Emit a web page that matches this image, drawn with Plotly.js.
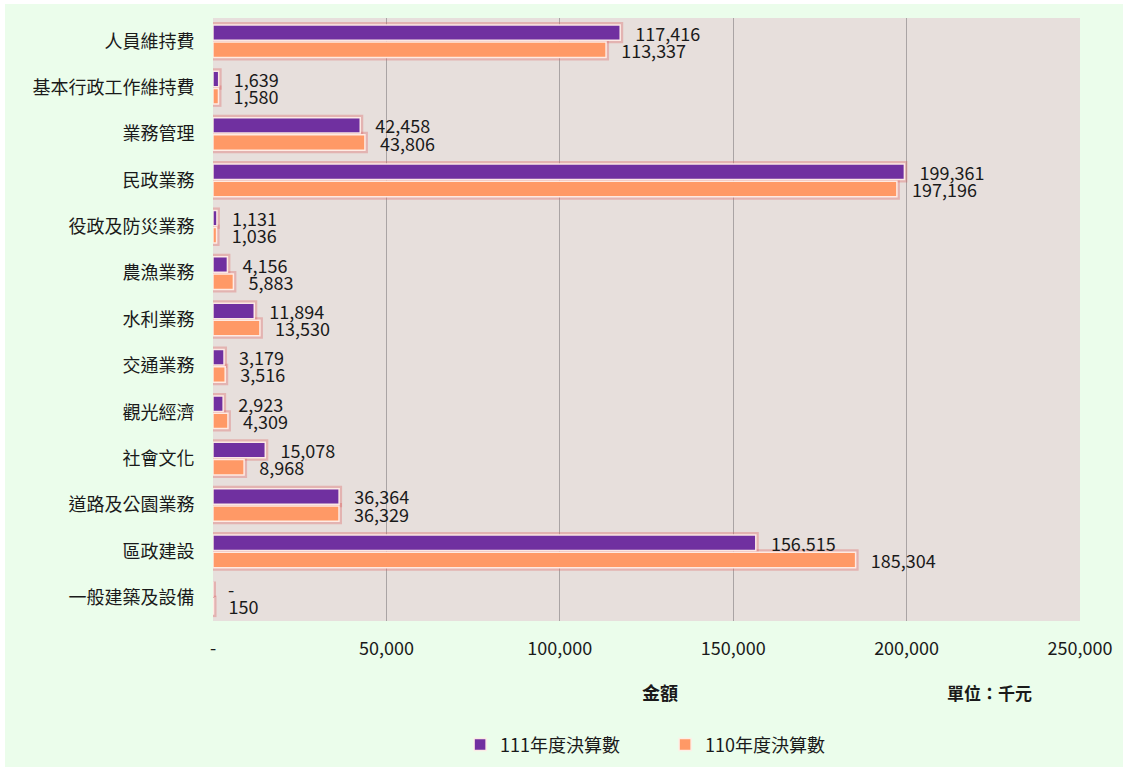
<!DOCTYPE html>
<html><head><meta charset="utf-8">
<script src="https://cdn.plot.ly/plotly-3.0.1.min.js"></script>
<style>html,body{margin:0;padding:0;background:#ffffff;}#chart{position:absolute;left:5px;top:4px;width:1118px;height:763px;}</style>
</head><body><div id="chart"></div>
<script>
const categories = ['人員維持費','基本行政工作維持費','業務管理','民政業務','役政及防災業務','農漁業務','水利業務','交通業務','觀光經濟','社會文化','道路及公園業務','區政建設','一般建築及設備'];
const values111 = [117416,1639,42458,199361,1131,4156,11894,3179,2923,15078,36364,156515,0];
const values110 = [113337,1580,43806,197196,1036,5883,13530,3516,4309,8968,36329,185304,150];
const seriesNames = ['111年度決算數','110年度決算數'];
const tickVals = [0,50000,100000,150000,200000,250000];
const tickText = ['-','50,000','100,000','150,000','200,000','250,000'];

const fmt = v => '\u00a0\u00a0\u00a0' + (v === 0 ? '-' : v.toLocaleString('en-US'));
const font = '"Noto Sans CJK TC","Noto Sans",sans-serif';

function barTrace(vals, name, color){
  return {
    type:'bar', orientation:'h', x: vals, y: categories, name: name, yaxis:'y2',
    text: vals.map(fmt), textposition:'outside', cliponaxis:false, constraintext:'none',
    textfont:{size:18, color:'#1a1a1a', family:font},
    marker:{color:color, line:{color:'rgba(255,238,232,0.95)', width:1.5}},
    hoverinfo:'x+y'
  };
}
function glowTrace(vals){
  return {
    type:'bar', orientation:'h', x: vals, y: categories, yaxis:'y', showlegend:false, hoverinfo:'skip',
    marker:{color:'rgba(0,0,0,0)', line:{color:'rgba(218,90,90,0.33)', width:6}}
  };
}
const data = [glowTrace(values111), glowTrace(values110),
  barTrace(values111, seriesNames[0], '#7030a0'), barTrace(values110, seriesNames[1], '#ff9966')];

const layout = {
  width:1118, height:763,
  margin:{l:208, r:43, t:14, b:146},
  paper_bgcolor:'#ebfdeb', plot_bgcolor:'#e7dfdc',
  barmode:'group', bargap:0.26, bargroupgap:0.1,
  font:{family:font, size:18, color:'#1a1a1a'},
  xaxis:{range:[0,250000], tickvals:tickVals, ticktext:tickText, showgrid:true, gridcolor:'#aaa4a4', gridwidth:1,
         zeroline:false, tickfont:{size:18, color:'#1a1a1a'}, ticks:'outside', ticklen:11, tickcolor:'rgba(0,0,0,0)', showline:false, fixedrange:true, automargin:false},
  yaxis:{autorange:'reversed', type:'category', tickfont:{size:18, color:'#1a1a1a'}, ticks:'outside', ticklen:14, tickcolor:'rgba(0,0,0,0)', showline:false, fixedrange:true, automargin:false},
  yaxis2:{overlaying:'y', matches:'y', type:'category', showticklabels:false, showgrid:false, zeroline:false, fixedrange:true},
  showlegend:true,
  legend:{orientation:'h', x:0.285, xanchor:'left', yref:'container', y:0.029, yanchor:'middle', font:{size:18}, itemwidth:30, entrywidth:160, entrywidthmode:'pixels', traceorder:'normal', bgcolor:'rgba(0,0,0,0)'},
  annotations:[
    {text:'<b>金額</b>', xref:'paper', yref:'paper', x:0.516, y:-0.118, showarrow:false, font:{size:18}, xanchor:'center', yanchor:'middle'},
    {text:'<b>單位：千元</b>', xref:'paper', yref:'paper', x:0.896, y:-0.118, showarrow:false, font:{size:17}, xanchor:'center', yanchor:'middle'}
  ]
};
Plotly.newPlot('chart', data, layout, {displayModeBar:false});
</script></body></html>
